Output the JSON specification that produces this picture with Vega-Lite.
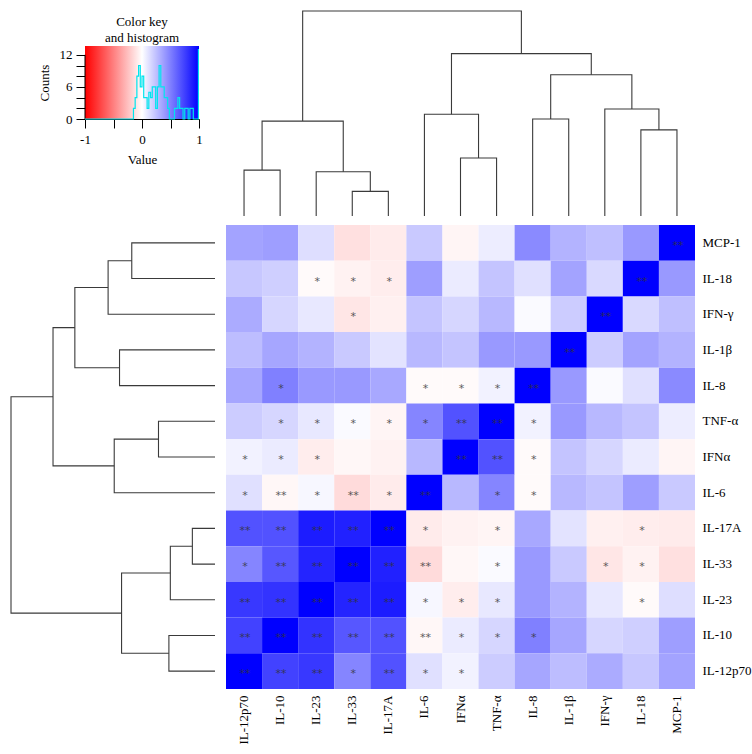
{
  "$schema": "https://vega.github.io/schema/vega-lite/v6.json",
  "padding": {"left": 8, "top": 8, "right": 4, "bottom": 2},
  "config": {
    "view": {"stroke": null},
    "font": "Liberation Serif",
    "axis": {"labelFont": "Liberation Serif", "titleFont": "Liberation Serif", "labelColor": "black", "titleColor": "black", "titleFontWeight": "normal"}
  },
  "datasets": {
    "heat": [
      {"r":"MCP-1","c":"IL-12p70","v":0.36,"s":""},{"r":"MCP-1","c":"IL-10","v":0.38,"s":""},{"r":"MCP-1","c":"IL-23","v":0.13,"s":""},{"r":"MCP-1","c":"IL-33","v":-0.12,"s":""},{"r":"MCP-1","c":"IL-17A","v":-0.08,"s":""},{"r":"MCP-1","c":"IL-6","v":0.21,"s":""},{"r":"MCP-1","c":"IFNα","v":-0.04,"s":""},{"r":"MCP-1","c":"TNF-α","v":0.07,"s":""},{"r":"MCP-1","c":"IL-8","v":0.46,"s":""},{"r":"MCP-1","c":"IL-1β","v":0.3,"s":""},{"r":"MCP-1","c":"IFN-γ","v":0.25,"s":""},{"r":"MCP-1","c":"IL-18","v":0.4,"s":""},{"r":"MCP-1","c":"MCP-1","v":1,"s":"**"},
      {"r":"IL-18","c":"IL-12p70","v":0.22,"s":""},{"r":"IL-18","c":"IL-10","v":0.19,"s":""},{"r":"IL-18","c":"IL-23","v":-0.02,"s":"*"},{"r":"IL-18","c":"IL-33","v":-0.05,"s":"*"},{"r":"IL-18","c":"IL-17A","v":-0.07,"s":"*"},{"r":"IL-18","c":"IL-6","v":0.38,"s":""},{"r":"IL-18","c":"IFNα","v":0.08,"s":""},{"r":"IL-18","c":"TNF-α","v":0.23,"s":""},{"r":"IL-18","c":"IL-8","v":0.12,"s":""},{"r":"IL-18","c":"IL-1β","v":0.36,"s":""},{"r":"IL-18","c":"IFN-γ","v":0.15,"s":""},{"r":"IL-18","c":"IL-18","v":1,"s":"**"},{"r":"IL-18","c":"MCP-1","v":0.4,"s":""},
      {"r":"IFN-γ","c":"IL-12p70","v":0.33,"s":""},{"r":"IFN-γ","c":"IL-10","v":0.16,"s":""},{"r":"IFN-γ","c":"IL-23","v":0.09,"s":""},{"r":"IFN-γ","c":"IL-33","v":-0.1,"s":"*"},{"r":"IFN-γ","c":"IL-17A","v":-0.06,"s":""},{"r":"IFN-γ","c":"IL-6","v":0.23,"s":""},{"r":"IFN-γ","c":"IFNα","v":0.16,"s":""},{"r":"IFN-γ","c":"TNF-α","v":0.28,"s":""},{"r":"IFN-γ","c":"IL-8","v":0.02,"s":""},{"r":"IFN-γ","c":"IL-1β","v":0.2,"s":""},{"r":"IFN-γ","c":"IFN-γ","v":1,"s":"**"},{"r":"IFN-γ","c":"IL-18","v":0.15,"s":""},{"r":"IFN-γ","c":"MCP-1","v":0.25,"s":""},
      {"r":"IL-1β","c":"IL-12p70","v":0.26,"s":""},{"r":"IL-1β","c":"IL-10","v":0.35,"s":""},{"r":"IL-1β","c":"IL-23","v":0.3,"s":""},{"r":"IL-1β","c":"IL-33","v":0.21,"s":""},{"r":"IL-1β","c":"IL-17A","v":0.11,"s":""},{"r":"IL-1β","c":"IL-6","v":0.28,"s":""},{"r":"IL-1β","c":"IFNα","v":0.23,"s":""},{"r":"IL-1β","c":"TNF-α","v":0.4,"s":""},{"r":"IL-1β","c":"IL-8","v":0.4,"s":""},{"r":"IL-1β","c":"IL-1β","v":1,"s":"**"},{"r":"IL-1β","c":"IFN-γ","v":0.2,"s":""},{"r":"IL-1β","c":"IL-18","v":0.36,"s":""},{"r":"IL-1β","c":"MCP-1","v":0.3,"s":""},
      {"r":"IL-8","c":"IL-12p70","v":0.35,"s":""},{"r":"IL-8","c":"IL-10","v":0.5,"s":"*"},{"r":"IL-8","c":"IL-23","v":0.4,"s":""},{"r":"IL-8","c":"IL-33","v":0.4,"s":""},{"r":"IL-8","c":"IL-17A","v":0.34,"s":""},{"r":"IL-8","c":"IL-6","v":-0.02,"s":"*"},{"r":"IL-8","c":"IFNα","v":-0.02,"s":"*"},{"r":"IL-8","c":"TNF-α","v":0.05,"s":"*"},{"r":"IL-8","c":"IL-8","v":1,"s":"**"},{"r":"IL-8","c":"IL-1β","v":0.4,"s":""},{"r":"IL-8","c":"IFN-γ","v":0.02,"s":""},{"r":"IL-8","c":"IL-18","v":0.12,"s":""},{"r":"IL-8","c":"MCP-1","v":0.46,"s":""},
      {"r":"TNF-α","c":"IL-12p70","v":0.2,"s":""},{"r":"TNF-α","c":"IL-10","v":0.16,"s":"*"},{"r":"TNF-α","c":"IL-23","v":0.09,"s":"*"},{"r":"TNF-α","c":"IL-33","v":0.02,"s":"*"},{"r":"TNF-α","c":"IL-17A","v":-0.04,"s":"*"},{"r":"TNF-α","c":"IL-6","v":0.48,"s":"*"},{"r":"TNF-α","c":"IFNα","v":0.68,"s":"**"},{"r":"TNF-α","c":"TNF-α","v":1,"s":"**"},{"r":"TNF-α","c":"IL-8","v":0.05,"s":"*"},{"r":"TNF-α","c":"IL-1β","v":0.4,"s":""},{"r":"TNF-α","c":"IFN-γ","v":0.28,"s":""},{"r":"TNF-α","c":"IL-18","v":0.23,"s":""},{"r":"TNF-α","c":"MCP-1","v":0.07,"s":""},
      {"r":"IFNα","c":"IL-12p70","v":0.05,"s":"*"},{"r":"IFNα","c":"IL-10","v":0.08,"s":"*"},{"r":"IFNα","c":"IL-23","v":-0.07,"s":"*"},{"r":"IFNα","c":"IL-33","v":-0.03,"s":""},{"r":"IFNα","c":"IL-17A","v":-0.05,"s":""},{"r":"IFNα","c":"IL-6","v":0.28,"s":""},{"r":"IFNα","c":"IFNα","v":1,"s":"**"},{"r":"IFNα","c":"TNF-α","v":0.68,"s":"**"},{"r":"IFNα","c":"IL-8","v":-0.02,"s":"*"},{"r":"IFNα","c":"IL-1β","v":0.23,"s":""},{"r":"IFNα","c":"IFN-γ","v":0.16,"s":""},{"r":"IFNα","c":"IL-18","v":0.08,"s":""},{"r":"IFNα","c":"MCP-1","v":-0.04,"s":""},
      {"r":"IL-6","c":"IL-12p70","v":0.12,"s":"*"},{"r":"IL-6","c":"IL-10","v":-0.03,"s":"**"},{"r":"IL-6","c":"IL-23","v":0.03,"s":"*"},{"r":"IL-6","c":"IL-33","v":-0.14,"s":"**"},{"r":"IL-6","c":"IL-17A","v":-0.08,"s":"*"},{"r":"IL-6","c":"IL-6","v":1,"s":"**"},{"r":"IL-6","c":"IFNα","v":0.28,"s":""},{"r":"IL-6","c":"TNF-α","v":0.48,"s":"*"},{"r":"IL-6","c":"IL-8","v":-0.02,"s":"*"},{"r":"IL-6","c":"IL-1β","v":0.28,"s":""},{"r":"IL-6","c":"IFN-γ","v":0.23,"s":""},{"r":"IL-6","c":"IL-18","v":0.38,"s":""},{"r":"IL-6","c":"MCP-1","v":0.21,"s":""},
      {"r":"IL-17A","c":"IL-12p70","v":0.68,"s":"**"},{"r":"IL-17A","c":"IL-10","v":0.68,"s":"**"},{"r":"IL-17A","c":"IL-23","v":0.89,"s":"**"},{"r":"IL-17A","c":"IL-33","v":0.87,"s":"**"},{"r":"IL-17A","c":"IL-17A","v":1,"s":"**"},{"r":"IL-17A","c":"IL-6","v":-0.08,"s":"*"},{"r":"IL-17A","c":"IFNα","v":-0.05,"s":""},{"r":"IL-17A","c":"TNF-α","v":-0.04,"s":"*"},{"r":"IL-17A","c":"IL-8","v":0.34,"s":""},{"r":"IL-17A","c":"IL-1β","v":0.11,"s":""},{"r":"IL-17A","c":"IFN-γ","v":-0.06,"s":""},{"r":"IL-17A","c":"IL-18","v":-0.07,"s":"*"},{"r":"IL-17A","c":"MCP-1","v":-0.08,"s":""},
      {"r":"IL-33","c":"IL-12p70","v":0.48,"s":"*"},{"r":"IL-33","c":"IL-10","v":0.66,"s":"**"},{"r":"IL-33","c":"IL-23","v":0.86,"s":"**"},{"r":"IL-33","c":"IL-33","v":1,"s":"**"},{"r":"IL-33","c":"IL-17A","v":0.87,"s":"**"},{"r":"IL-33","c":"IL-6","v":-0.14,"s":"**"},{"r":"IL-33","c":"IFNα","v":-0.03,"s":""},{"r":"IL-33","c":"TNF-α","v":0.02,"s":"*"},{"r":"IL-33","c":"IL-8","v":0.4,"s":""},{"r":"IL-33","c":"IL-1β","v":0.21,"s":""},{"r":"IL-33","c":"IFN-γ","v":-0.1,"s":"*"},{"r":"IL-33","c":"IL-18","v":-0.05,"s":"*"},{"r":"IL-33","c":"MCP-1","v":-0.12,"s":""},
      {"r":"IL-23","c":"IL-12p70","v":0.78,"s":"**"},{"r":"IL-23","c":"IL-10","v":0.8,"s":"**"},{"r":"IL-23","c":"IL-23","v":1,"s":"**"},{"r":"IL-23","c":"IL-33","v":0.86,"s":"**"},{"r":"IL-23","c":"IL-17A","v":0.89,"s":"**"},{"r":"IL-23","c":"IL-6","v":0.03,"s":"*"},{"r":"IL-23","c":"IFNα","v":-0.07,"s":"*"},{"r":"IL-23","c":"TNF-α","v":0.09,"s":"*"},{"r":"IL-23","c":"IL-8","v":0.4,"s":""},{"r":"IL-23","c":"IL-1β","v":0.3,"s":""},{"r":"IL-23","c":"IFN-γ","v":0.09,"s":""},{"r":"IL-23","c":"IL-18","v":-0.02,"s":"*"},{"r":"IL-23","c":"MCP-1","v":0.13,"s":""},
      {"r":"IL-10","c":"IL-12p70","v":0.74,"s":"**"},{"r":"IL-10","c":"IL-10","v":1,"s":"**"},{"r":"IL-10","c":"IL-23","v":0.8,"s":"**"},{"r":"IL-10","c":"IL-33","v":0.66,"s":"**"},{"r":"IL-10","c":"IL-17A","v":0.68,"s":"**"},{"r":"IL-10","c":"IL-6","v":-0.03,"s":"**"},{"r":"IL-10","c":"IFNα","v":0.08,"s":"*"},{"r":"IL-10","c":"TNF-α","v":0.16,"s":"*"},{"r":"IL-10","c":"IL-8","v":0.5,"s":"*"},{"r":"IL-10","c":"IL-1β","v":0.35,"s":""},{"r":"IL-10","c":"IFN-γ","v":0.16,"s":""},{"r":"IL-10","c":"IL-18","v":0.19,"s":""},{"r":"IL-10","c":"MCP-1","v":0.38,"s":""},
      {"r":"IL-12p70","c":"IL-12p70","v":1,"s":"**"},{"r":"IL-12p70","c":"IL-10","v":0.74,"s":"**"},{"r":"IL-12p70","c":"IL-23","v":0.78,"s":"**"},{"r":"IL-12p70","c":"IL-33","v":0.48,"s":"*"},{"r":"IL-12p70","c":"IL-17A","v":0.68,"s":"**"},{"r":"IL-12p70","c":"IL-6","v":0.12,"s":"*"},{"r":"IL-12p70","c":"IFNα","v":0.05,"s":"*"},{"r":"IL-12p70","c":"TNF-α","v":0.2,"s":""},{"r":"IL-12p70","c":"IL-8","v":0.35,"s":""},{"r":"IL-12p70","c":"IL-1β","v":0.26,"s":""},{"r":"IL-12p70","c":"IFN-γ","v":0.33,"s":""},{"r":"IL-12p70","c":"IL-18","v":0.22,"s":""},{"r":"IL-12p70","c":"MCP-1","v":0.36,"s":""}
    ],
    "hist": [
      {"v":-1,"n":0},{"v":-0.15,"n":2},{"v":-0.12,"n":4},{"v":-0.09,"n":8},{"v":-0.06,"n":10},{"v":-0.03,"n":6},{"v":0,"n":8},{"v":0.03,"n":4},{"v":0.06,"n":4},{"v":0.09,"n":2},{"v":0.12,"n":5},{"v":0.15,"n":4},{"v":0.18,"n":6},{"v":0.21,"n":6},{"v":0.24,"n":2},{"v":0.27,"n":6},{"v":0.3,"n":10},{"v":0.33,"n":6},{"v":0.36,"n":6},{"v":0.39,"n":4},{"v":0.42,"n":4},{"v":0.45,"n":2},{"v":0.48,"n":0},{"v":0.57,"n":2},{"v":0.6,"n":2},{"v":0.63,"n":4},{"v":0.66,"n":2},{"v":0.69,"n":2},{"v":0.72,"n":0},{"v":0.75,"n":2},{"v":0.78,"n":2},{"v":0.81,"n":0},{"v":0.84,"n":2},{"v":0.87,"n":2},{"v":0.9,"n":0},{"v":0.99,"n":13},{"v":1,"n":13}
    ],
    "coltree": [
      {"n":1,"o":0,"p":0.5,"h":0},{"n":1,"o":1,"p":0.5,"h":0.224},{"n":1,"o":2,"p":1.5,"h":0.224},{"n":1,"o":3,"p":1.5,"h":0},
      {"n":2,"o":0,"p":3.5,"h":0},{"n":2,"o":1,"p":3.5,"h":0.12},{"n":2,"o":2,"p":4.5,"h":0.12},{"n":2,"o":3,"p":4.5,"h":0},
      {"n":3,"o":0,"p":2.5,"h":0},{"n":3,"o":1,"p":2.5,"h":0.216},{"n":3,"o":2,"p":4.0,"h":0.216},{"n":3,"o":3,"p":4.0,"h":0.12},
      {"n":4,"o":0,"p":1.0,"h":0.224},{"n":4,"o":1,"p":1.0,"h":0.463},{"n":4,"o":2,"p":3.25,"h":0.463},{"n":4,"o":3,"p":3.25,"h":0.216},
      {"n":5,"o":0,"p":6.5,"h":0},{"n":5,"o":1,"p":6.5,"h":0.283},{"n":5,"o":2,"p":7.5,"h":0.283},{"n":5,"o":3,"p":7.5,"h":0},
      {"n":6,"o":0,"p":5.5,"h":0},{"n":6,"o":1,"p":5.5,"h":0.496},{"n":6,"o":2,"p":7.0,"h":0.496},{"n":6,"o":3,"p":7.0,"h":0.283},
      {"n":7,"o":0,"p":8.5,"h":0},{"n":7,"o":1,"p":8.5,"h":0.473},{"n":7,"o":2,"p":9.5,"h":0.473},{"n":7,"o":3,"p":9.5,"h":0},
      {"n":8,"o":0,"p":11.5,"h":0},{"n":8,"o":1,"p":11.5,"h":0.42},{"n":8,"o":2,"p":12.5,"h":0.42},{"n":8,"o":3,"p":12.5,"h":0},
      {"n":9,"o":0,"p":10.5,"h":0},{"n":9,"o":1,"p":10.5,"h":0.522},{"n":9,"o":2,"p":12.0,"h":0.522},{"n":9,"o":3,"p":12.0,"h":0.42},
      {"n":10,"o":0,"p":9.0,"h":0.473},{"n":10,"o":1,"p":9.0,"h":0.689},{"n":10,"o":2,"p":11.25,"h":0.689},{"n":10,"o":3,"p":11.25,"h":0.522},
      {"n":11,"o":0,"p":6.25,"h":0.496},{"n":11,"o":1,"p":6.25,"h":0.792},{"n":11,"o":2,"p":10.125,"h":0.792},{"n":11,"o":3,"p":10.125,"h":0.689},
      {"n":12,"o":0,"p":2.125,"h":0.463},{"n":12,"o":1,"p":2.125,"h":1},{"n":12,"o":2,"p":8.1875,"h":1},{"n":12,"o":3,"p":8.1875,"h":0.792}
    ],
    "rowtree": [
      {"n":1,"o":0,"p":0.5,"h":0},{"n":1,"o":1,"p":0.5,"h":0.408},{"n":1,"o":2,"p":1.5,"h":0.408},{"n":1,"o":3,"p":1.5,"h":0},
      {"n":2,"o":0,"p":1.0,"h":0.408},{"n":2,"o":1,"p":1.0,"h":0.524},{"n":2,"o":2,"p":2.5,"h":0.524},{"n":2,"o":3,"p":2.5,"h":0},
      {"n":3,"o":0,"p":3.5,"h":0},{"n":3,"o":1,"p":3.5,"h":0.468},{"n":3,"o":2,"p":4.5,"h":0.468},{"n":3,"o":3,"p":4.5,"h":0},
      {"n":4,"o":0,"p":1.75,"h":0.524},{"n":4,"o":1,"p":1.75,"h":0.687},{"n":4,"o":2,"p":4.0,"h":0.687},{"n":4,"o":3,"p":4.0,"h":0.468},
      {"n":5,"o":0,"p":5.5,"h":0},{"n":5,"o":1,"p":5.5,"h":0.277},{"n":5,"o":2,"p":6.5,"h":0.277},{"n":5,"o":3,"p":6.5,"h":0},
      {"n":6,"o":0,"p":6.0,"h":0.277},{"n":6,"o":1,"p":6.0,"h":0.494},{"n":6,"o":2,"p":7.5,"h":0.494},{"n":6,"o":3,"p":7.5,"h":0},
      {"n":7,"o":0,"p":2.875,"h":0.687},{"n":7,"o":1,"p":2.875,"h":0.794},{"n":7,"o":2,"p":6.75,"h":0.794},{"n":7,"o":3,"p":6.75,"h":0.494},
      {"n":8,"o":0,"p":8.5,"h":0},{"n":8,"o":1,"p":8.5,"h":0.111},{"n":8,"o":2,"p":9.5,"h":0.111},{"n":8,"o":3,"p":9.5,"h":0},
      {"n":9,"o":0,"p":9.0,"h":0.111},{"n":9,"o":1,"p":9.0,"h":0.219},{"n":9,"o":2,"p":10.5,"h":0.219},{"n":9,"o":3,"p":10.5,"h":0},
      {"n":10,"o":0,"p":11.5,"h":0},{"n":10,"o":1,"p":11.5,"h":0.226},{"n":10,"o":2,"p":12.5,"h":0.226},{"n":10,"o":3,"p":12.5,"h":0},
      {"n":11,"o":0,"p":9.75,"h":0.219},{"n":11,"o":1,"p":9.75,"h":0.458},{"n":11,"o":2,"p":12.0,"h":0.458},{"n":11,"o":3,"p":12.0,"h":0.226},
      {"n":12,"o":0,"p":4.8125,"h":0.794},{"n":12,"o":1,"p":4.8125,"h":1},{"n":12,"o":2,"p":10.875,"h":1},{"n":12,"o":3,"p":10.875,"h":0.458}
    ]
  },
  "columns": 2,
  "spacing": {"row": 6, "column": 7},
  "concat": [
    {
      "spacing": 18,
      "hconcat": [
        {"width": 9, "height": 10, "data": {"values": []}, "mark": "point"},
        {
          "width": 114,
          "height": 73,
          "title": {"text": ["Color key", "and histogram"], "font": "Liberation Serif", "fontSize": 13, "fontWeight": "normal", "lineHeight": 16, "offset": 1, "color": "black"},
          "encoding": {
            "x": {"type": "quantitative", "scale": {"domain": [-1, 1], "nice": false, "zero": false},
              "axis": {"title": "Value", "titleFontSize": 13, "titlePadding": 7, "values": [-1, -0.5, 0, 0.5, 1], "labelExpr": "datum.value == -1 ? '-1' : datum.value == 0 ? '0' : datum.value == 1 ? '1' : ''", "labelFontSize": 13, "tickSize": 9, "tickColor": "black", "domainColor": "black", "labelPadding": 5, "grid": false, "labelFlush": false, "labelOverlap": false}},
            "y": {"type": "quantitative", "scale": {"domain": [0, 13.65], "nice": false},
              "axis": {"title": "Counts", "titleFontSize": 13, "titlePadding": 8, "values": [0, 2, 4, 6, 8, 10, 12], "labelExpr": "(datum.value == 0 || datum.value == 6 || datum.value == 12) ? datum.label : ''", "labelFontSize": 13, "tickSize": 9, "tickColor": "black", "domain": false, "labelPadding": 4, "grid": false, "labelOverlap": false}}
          },
          "layer": [
            {
              "data": {"values": [{}]},
              "mark": {"type": "rect", "fill": {"gradient": "linear", "x1": 0, "y1": 0, "x2": 1, "y2": 0, "stops": [{"offset": 0, "color": "#ff0000"}, {"offset": 0.5, "color": "#ffffff"}, {"offset": 1, "color": "#0000ff"}]}},
              "encoding": {
                "x": {"datum": -1},
                "x2": {"datum": 1},
                "y": {"datum": 0},
                "y2": {"datum": 13.65}
              }
            },
            {
              "data": {"values": [{}]},
              "mark": {"type": "rule", "color": "black", "strokeWidth": 1},
              "encoding": {"x": {"datum": -1}, "y": {"datum": 0}, "y2": {"datum": 12}}
            },
            {
              "data": {"name": "hist"},
              "mark": {"type": "line", "interpolate": "step-after", "color": "#00e5ee", "strokeWidth": 1.2},
              "encoding": {
                "x": {"field": "v"},
                "y": {"field": "n"}
              }
            }
          ]
        }
      ]
    },
    {
      "width": 469,
      "height": 170,
      "data": {"name": "coltree"},
      "mark": {"type": "line", "color": "#3a3a3a", "strokeWidth": 1.1, "clip": false},
      "encoding": {
        "x": {"field": "p", "type": "quantitative", "scale": {"domain": [0, 13], "nice": false, "zero": false}, "axis": null},
        "y": {"field": "h", "type": "quantitative", "scale": {"domain": [0, 0.8293], "nice": false}, "axis": null},
        "detail": {"field": "n"},
        "order": {"field": "o"}
      }
    },
    {
      "width": 204,
      "height": 464,
      "data": {"name": "rowtree"},
      "mark": {"type": "line", "color": "#3a3a3a", "strokeWidth": 1.1},
      "encoding": {
        "x": {"field": "h", "type": "quantitative", "scale": {"domain": [0, 1], "nice": false, "reverse": true}, "axis": null},
        "y": {"field": "p", "type": "quantitative", "scale": {"domain": [0, 13], "nice": false, "zero": false, "reverse": true}, "axis": null},
        "detail": {"field": "n"},
        "order": {"field": "o"}
      }
    },
    {
      "width": 469,
      "height": 464,
      "data": {"name": "heat"},
      "encoding": {
        "x": {"field": "c", "type": "nominal", "sort": ["IL-12p70","IL-10","IL-23","IL-33","IL-17A","IL-6","IFNα","TNF-α","IL-8","IL-1β","IFN-γ","IL-18","MCP-1"], "scale": {"paddingInner": 0, "paddingOuter": 0},
          "axis": {"title": null, "labelAngle": -90, "labelFontSize": 13, "ticks": false, "domain": false, "labelPadding": 6}},
        "y": {"field": "r", "type": "nominal", "sort": ["MCP-1","IL-18","IFN-γ","IL-1β","IL-8","TNF-α","IFNα","IL-6","IL-17A","IL-33","IL-23","IL-10","IL-12p70"], "scale": {"paddingInner": 0, "paddingOuter": 0},
          "axis": {"title": null, "orient": "right", "labelFontSize": 13, "ticks": false, "domain": false, "labelPadding": 7}}
      },
      "layer": [
        {
          "mark": {"type": "rect"},
          "encoding": {
            "color": {"field": "v", "type": "quantitative", "scale": {"domain": [-1, 0, 1], "range": ["#ff0000", "#ffffff", "#0000ff"], "interpolate": "rgb"}, "legend": null}
          }
        },
        {
          "mark": {"type": "text", "font": "DejaVu Sans", "fontSize": 11, "color": "#333333", "opacity": 0.8, "dx": 1, "dy": 3, "baseline": "middle"},
          "encoding": {"text": {"field": "s"}}
        }
      ]
    }
  ]
}
